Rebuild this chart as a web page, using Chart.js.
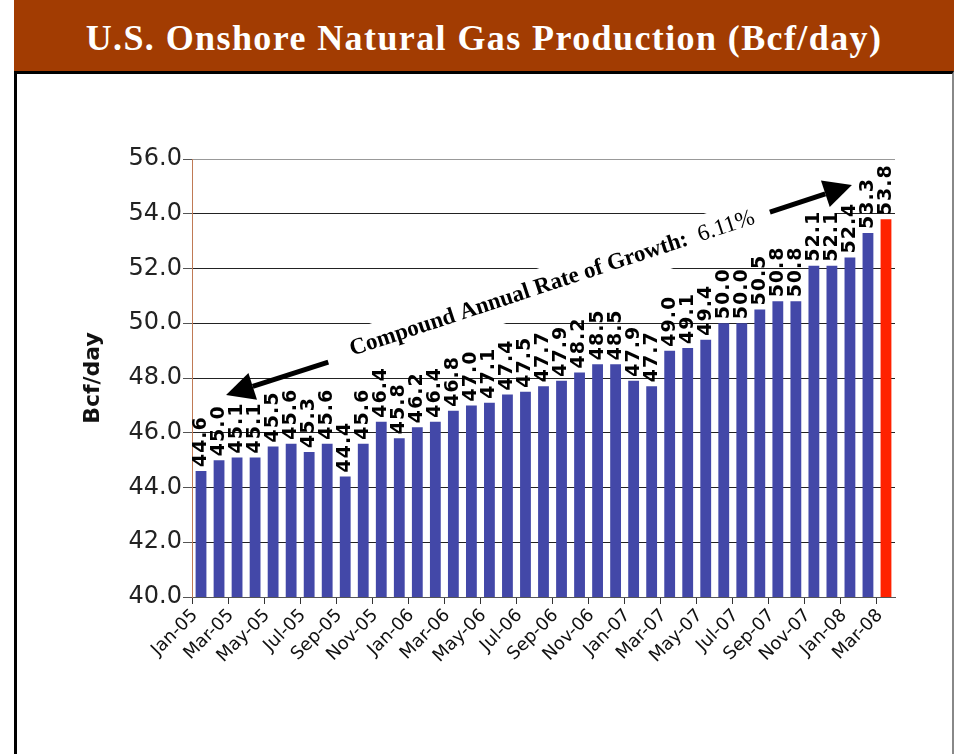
<!DOCTYPE html>
<html>
<head>
<meta charset="utf-8">
<script src="https://cdn.jsdelivr.net/npm/chart.js@4"></script>
<style>
  body { margin: 0; background: #fff; width: 954px; height: 754px; overflow: hidden; position: relative; }
  #title { position: absolute; left: 14px; top: 0; width: 940px; height: 71px; background: #A23C02; color: #fff;
           font: bold 36px "Liberation Serif", serif; letter-spacing: 1.4px; text-align: center; line-height: 77px; }
  #frame { position: absolute; left: 14px; top: 71px; width: 935px; height: 700px;
           border-left: 3px solid #000; border-top: 3px solid #000; border-right: 2px solid #888; }
  #wrap { position: absolute; left: 0; top: 0; }
</style>
</head>
<body>
<div id="title">U.S. Onshore Natural Gas Production (Bcf/day)</div>
<div id="frame"></div>
<div id="wrap"><canvas id="myChart" width="954" height="754"></canvas></div>
<script>
// monthly production, Bcf/day
var months = [
  'Jan-05','Feb-05','Mar-05','Apr-05','May-05','Jun-05','Jul-05','Aug-05','Sep-05','Oct-05','Nov-05','Dec-05',
  'Jan-06','Feb-06','Mar-06','Apr-06','May-06','Jun-06','Jul-06','Aug-06','Sep-06','Oct-06','Nov-06','Dec-06',
  'Jan-07','Feb-07','Mar-07','Apr-07','May-07','Jun-07','Jul-07','Aug-07','Sep-07','Oct-07','Nov-07','Dec-07',
  'Jan-08','Feb-08','Mar-08'
];
var production = [
  44.6, 45.0, 45.1, 45.1, 45.5, 45.6, 45.3, 45.6, 44.4, 45.6, 46.4, 45.8,
  46.2, 46.4, 46.8, 47.0, 47.1, 47.4, 47.5, 47.7, 47.9, 48.2, 48.5, 48.5,
  47.9, 47.7, 49.0, 49.1, 49.4, 50.0, 50.0, 50.5, 50.8, 50.8, 52.1, 52.1,
  52.4, 53.3, 53.8
];
var yTickValues = [40, 42, 44, 46, 48, 50, 52, 54, 56];
var cagrLabel = '6.11%';

var blue = '#4348A8';
var red = '#FF2200';
var barColors = production.map(function(v, i) { return i === production.length - 1 ? red : blue; });

function drawArrow(ctx, x1, y1, x2, y2) {
  var ang = Math.atan2(y2 - y1, x2 - x1);
  var headLen = 28, headW = 14;
  var bx = x2 - headLen * Math.cos(ang), by = y2 - headLen * Math.sin(ang);
  ctx.save();
  ctx.strokeStyle = '#000';
  ctx.fillStyle = '#000';
  ctx.lineWidth = 5;
  ctx.beginPath();
  ctx.moveTo(x1, y1);
  ctx.lineTo(bx, by);
  ctx.stroke();
  ctx.beginPath();
  ctx.moveTo(x2, y2);
  ctx.lineTo(bx + headW * Math.sin(ang), by - headW * Math.cos(ang));
  ctx.lineTo(bx - headW * Math.sin(ang), by + headW * Math.cos(ang));
  ctx.closePath();
  ctx.fill();
  ctx.restore();
}

// growth note sits on a white band rotated along the trend
var note = { idx: 13.17, val: 50.0, angle: -18.2 * Math.PI / 180 };

var annotations = {
  id: 'annotations',
  beforeDatasetsDraw: function(chart) {
    var ctx = chart.ctx, x = chart.scales.x, y = chart.scales.y;
    ctx.save();
    ctx.translate(x.getPixelForValue(note.idx), y.getPixelForValue(note.val));
    ctx.rotate(note.angle);
    ctx.fillStyle = '#fff';
    ctx.fillRect(-110, -21, 521, 42);
    ctx.restore();
  },
  afterDatasetsDraw: function(chart) {
    var ctx = chart.ctx, x = chart.scales.x, y = chart.scales.y;
    var meta = chart.getDatasetMeta(0);

    // value labels, rotated
    ctx.save();
    ctx.fillStyle = '#000';
    ctx.font = 'bold 19px "DejaVu Sans"';
    ctx.letterSpacing = '1px';
    ctx.textAlign = 'left';
    ctx.textBaseline = 'middle';
    meta.data.forEach(function(bar, i) {
      ctx.save();
      ctx.translate(bar.x, bar.y - 4);
      ctx.rotate(-Math.PI / 2);
      ctx.fillText(production[i].toFixed(1), 0, 0);
      ctx.restore();
    });
    ctx.restore();

    // growth text
    ctx.save();
    ctx.translate(x.getPixelForValue(note.idx), y.getPixelForValue(note.val));
    ctx.rotate(note.angle);
    ctx.fillStyle = '#000';
    ctx.textBaseline = 'middle';
    ctx.textAlign = 'left';
    var part1 = 'Compound Annual Rate of Growth:  ';
    ctx.font = 'bold 23px "Liberation Serif"';
    ctx.fillText(part1, -92, -2);
    var w = ctx.measureText(part1).width;
    ctx.font = '23px "Liberation Serif"';
    ctx.fillText(cagrLabel, -92 + w, -2);
    ctx.restore();

    // arrows
    drawArrow(ctx, x.getPixelForValue(7.06), y.getPixelForValue(48.58),
                   x.getPixelForValue(1.39), y.getPixelForValue(47.38));
    drawArrow(ctx, x.getPixelForValue(31.56), y.getPixelForValue(54.06),
                   x.getPixelForValue(36.11), y.getPixelForValue(55.05));
  }
};

var ctx = document.getElementById('myChart').getContext('2d');
var chart = new Chart(ctx, {
  type: 'bar',
  data: {
    labels: months,
    datasets: [{
      data: production,
      backgroundColor: barColors,
      barPercentage: 0.6,
      categoryPercentage: 1.0
    }]
  },
  options: {
    responsive: false,
    animation: false,
    layout: { padding: { top: 159, right: 59, bottom: 0, left: 0 } },
    plugins: { legend: { display: false }, tooltip: { enabled: false } },
    scales: {
      x: {
        offset: true,
        grid: {
          offset: true,
          drawOnChartArea: false,
          tickLength: 7,
          color: function(c) { return c.index % 2 === 0 ? '#333' : 'rgba(0,0,0,0)'; }
        },
        border: { color: '#555', width: 1 },
        ticks: {
          autoSkip: false,
          minRotation: 45,
          maxRotation: 45,
          labelOffset: -6,
          padding: 1,
          color: '#111',
          font: { family: 'DejaVu Sans', size: 18 },
          callback: function(v, i) { return i % 2 === 0 ? this.getLabelForValue(v) : ''; }
        },
        afterFit: function(s) { s.height = 157; }
      },
      y: {
        min: 40,
        max: 56,
        afterBuildTicks: function(s) { s.ticks = yTickValues.map(function(v) { return { value: v }; }); },
        ticks: {
          padding: 1,
          color: '#222',
          font: { family: 'DejaVu Sans', size: 24 },
          callback: function(v) { return v.toFixed(1); }
        },
        grid: {
          tickLength: 9,
          tickColor: '#555',
          color: function(c) { return c.tick && c.tick.value === 56 ? '#999' : '#222'; }
        },
        border: { color: '#C07A55', width: 1 },
        title: {
          display: true,
          text: 'Bcf/day',
          color: '#111',
          font: { family: 'DejaVu Sans', size: 22, weight: 'bold' },
          padding: { top: 80, bottom: 0 }
        },
        afterFit: function(s) { s.width = 192; }
      }
    }
  },
  plugins: [annotations]
});
</script>
</body>
</html>
